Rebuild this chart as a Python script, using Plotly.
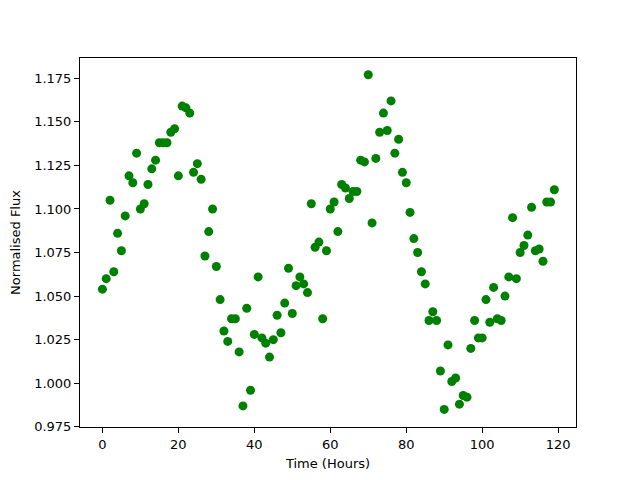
import plotly.graph_objects as go

hours = list(range(120))
flux = [
    1.054, 1.060, 1.105, 1.064, 1.086, 1.076, 1.096, 1.119, 1.115, 1.132,
    1.100, 1.103, 1.114, 1.123, 1.128, 1.138, 1.138, 1.138, 1.144, 1.146,
    1.119, 1.159, 1.158, 1.155, 1.121, 1.126, 1.117, 1.073, 1.087, 1.100,
    1.067, 1.048, 1.030, 1.024, 1.037, 1.037, 1.018, 0.987, 1.043, 0.996,
    1.028, 1.061, 1.026, 1.023, 1.015, 1.025, 1.039, 1.029, 1.046, 1.066,
    1.040, 1.056, 1.061, 1.057, 1.052, 1.103, 1.078, 1.081, 1.037, 1.076,
    1.100, 1.104, 1.087, 1.114, 1.112, 1.106, 1.110, 1.110, 1.128, 1.127,
    1.177, 1.092, 1.129, 1.144, 1.155, 1.145, 1.162, 1.132, 1.140, 1.121,
    1.115, 1.098, 1.083, 1.075, 1.064, 1.057, 1.036, 1.041, 1.036, 1.007,
    0.985, 1.022, 1.001, 1.003, 0.988, 0.993, 0.992, 1.020, 1.036, 1.026,
    1.026, 1.048, 1.035, 1.055, 1.037, 1.036, 1.050, 1.061, 1.095, 1.060,
    1.075, 1.079, 1.085, 1.101, 1.076, 1.077, 1.070, 1.104, 1.104, 1.111,
]
x_ticks = [0, 20, 40, 60, 80, 100, 120]
y_ticks = [0.975, 1.000, 1.025, 1.050, 1.075, 1.100, 1.125, 1.150, 1.175]

fig = go.Figure(go.Scatter(
    x=hours, y=flux, mode="markers",
    marker=dict(color="#008000", size=9, line=dict(width=0)),
))

axis_common = dict(
    showline=True, linecolor="black", linewidth=1, mirror=True,
    ticks="outside", ticklen=5, tickwidth=1, tickcolor="black",
    showgrid=False, zeroline=False, automargin=False,
    tickfont=dict(family="DejaVu Sans", size=13, color="black"),
)

# page body has an 8px margin, so the figure is shrunk and shifted to compensate
fig.update_layout(
    width=632, height=472,
    margin=dict(l=72, r=64, t=50, b=53),
    paper_bgcolor="white", plot_bgcolor="white",
    font=dict(family="DejaVu Sans", size=13, color="black"),
    showlegend=False,
    xaxis=dict(range=[-5.9, 124.7], tickvals=x_ticks,
               title=dict(text="Time (Hours)", standoff=8,
                          font=dict(family="DejaVu Sans", size=13)),
               **axis_common),
    yaxis=dict(range=[0.9749, 1.1866], tickvals=y_ticks,
               ticktext=[f"{v:.3f}" for v in y_ticks],
               title=dict(text="Normalised Flux", standoff=10,
                          font=dict(family="DejaVu Sans", size=13)),
               **axis_common),
)

fig.write_html("out.html")
